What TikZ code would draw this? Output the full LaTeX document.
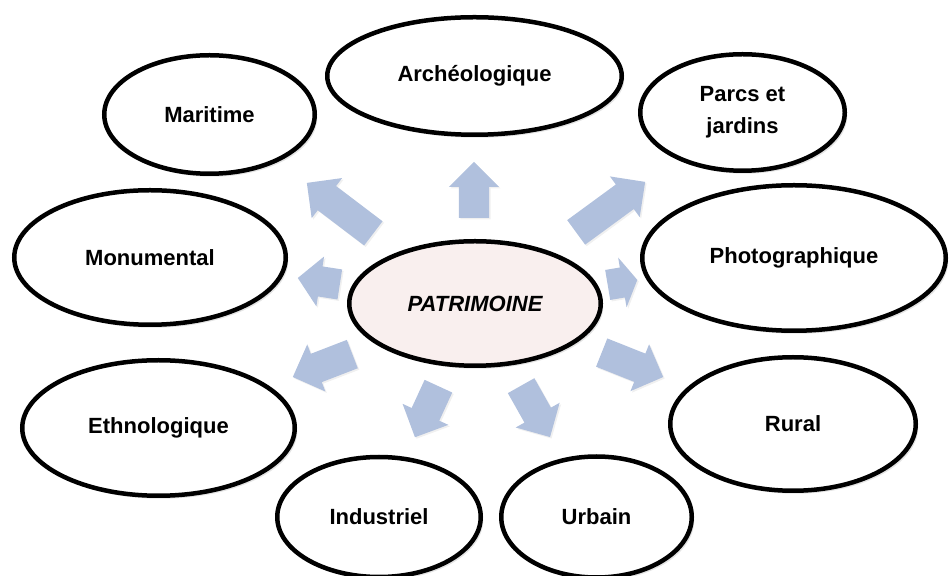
\documentclass[tikz,border=0pt]{standalone}
\usepackage{fontspec}
\setmainfont{Liberation Sans}
\usetikzlibrary{shapes.geometric,shapes.arrows,shadows}
\definecolor{arrowblue}{RGB}{176,192,221}
\definecolor{patpink}{RGB}{249,239,238}
\tikzset{
  bubble/.style={ellipse, draw=black, line width=4.5pt, fill=white, inner sep=0pt,
    font=\bfseries\fontsize{22}{32}\selectfont, align=center,
    drop shadow={opacity=0.22, shadow xshift=2.5pt, shadow yshift=-3pt}},
  blockarrow/.style={single arrow, fill=arrowblue, draw=none, inner xsep=0pt, inner ysep=15pt,
    single arrow head extend=10pt, single arrow tip angle=90, anchor=tail,
    drop shadow={opacity=0.12, shadow xshift=1.5pt, shadow yshift=-1.5pt}}
}
\begin{document}
\begin{tikzpicture}[x=1pt,y=1pt]
\useasboundingbox (0,0) rectangle (949,575);
\clip (0,0) rectangle (949,575);
% block arrows (placed by their tail)
\node[blockarrow, rotate=142.8, minimum height=83.5pt] (a1) at (373.5,341.5) {};
\node[blockarrow, rotate=90, minimum height=56pt] (a2) at (474,357) {};
\node[blockarrow, rotate=36.2, minimum height=85.5pt] (a3) at (576,342.5) {};
\node[blockarrow, rotate=171.2, minimum height=42.5pt, single arrow tip angle=96] (a4) at (340,290.5) {};
\node[blockarrow, rotate=9.6, minimum height=30pt, single arrow tip angle=118] (a5) at (607.5,290) {};
\node[blockarrow, rotate=201.1, minimum height=63.8pt] (a6) at (352.5,221) {};
\node[blockarrow, rotate=245.3, minimum height=56.2pt] (a7) at (438.5,189) {};
\node[blockarrow, rotate=299.4, minimum height=59pt] (a8) at (521,189.5) {};
\node[blockarrow, rotate=338.3, minimum height=66.2pt] (a9) at (601.5,222.5) {};
% ellipses
\node[bubble, minimum width=210.5pt, minimum height=118.5pt] (mar) at (209.5,460.5) {Maritime};
\node[bubble, minimum width=294.5pt, minimum height=117.5pt] (arc) at (474.5,499) {Archéologique};
\node[bubble, minimum width=204.5pt, minimum height=116.5pt] (par) at (742.5,462.5) {Parcs et\\jardins};
\node[bubble, minimum width=303.5pt, minimum height=145.5pt] (pho) at (794,317) {Photographique};
\node[bubble, minimum width=271.5pt, minimum height=134.5pt] (mon) at (150,317.5) {Monumental};
\node[bubble, minimum width=272.5pt, minimum height=135.5pt] (eth) at (158.5,147) {Ethnologique};
\node[bubble, minimum width=203.5pt, minimum height=120pt] (ind) at (379,58) {Industriel};
\node[bubble, minimum width=190.5pt, minimum height=121pt] (urb) at (596.5,58) {Urbain};
\node[bubble, minimum width=245.5pt, minimum height=133.5pt] (rur) at (793,151) {Rural};
\node[bubble, fill=patpink, minimum width=251.5pt, minimum height=124.5pt,
  font=\bfseries\itshape\fontsize{22}{32}\selectfont] (pat) at (475,271.5) {PATRIMOINE};
\end{tikzpicture}
\end{document}
